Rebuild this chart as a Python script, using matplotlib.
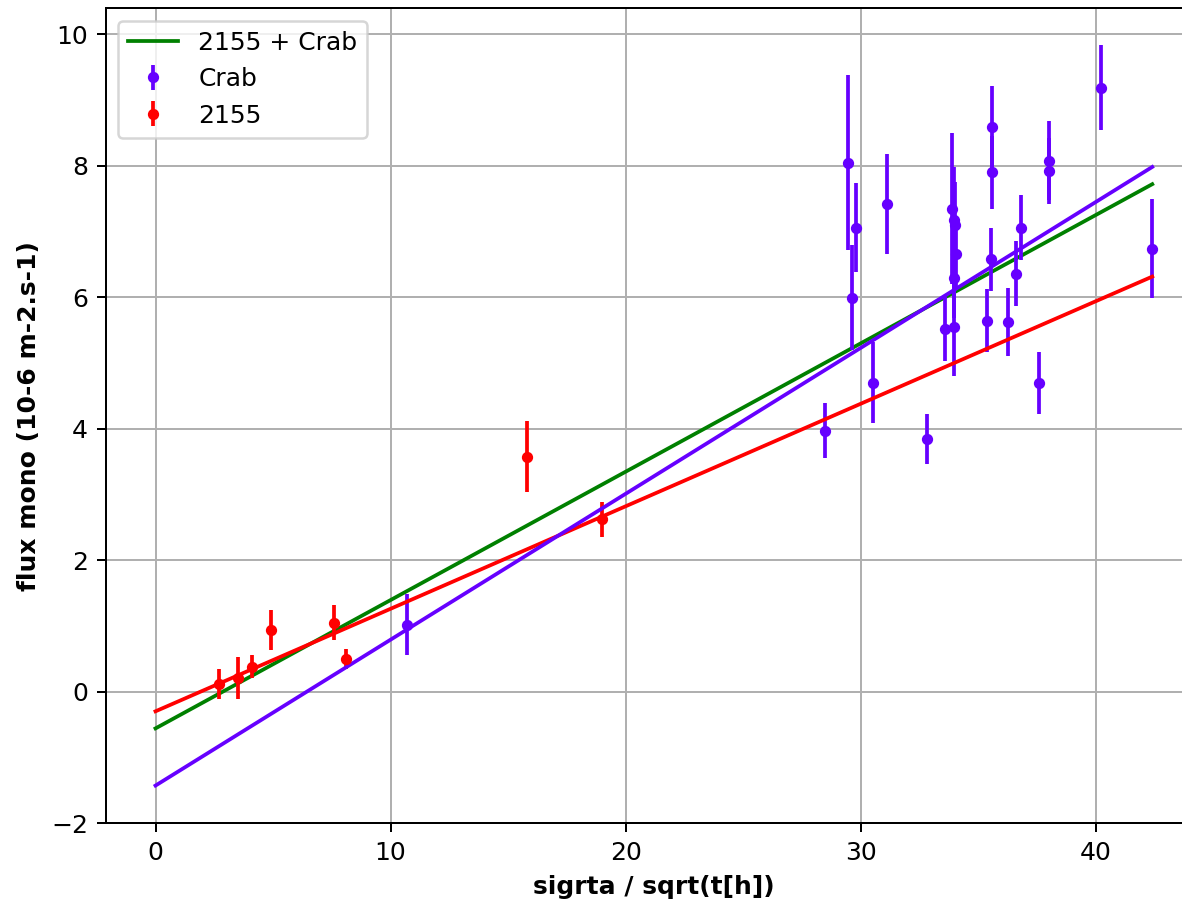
import numpy as np
import matplotlib
matplotlib.use('Agg')
import matplotlib.pyplot as plt

# 2155 points
x_2155 = [2.7, 3.5, 4.1, 4.9, 7.6, 8.1, 15.8, 19.0]
y_2155 = [0.12, 0.20, 0.38, 0.94, 1.05, 0.50, 3.57, 2.62]
e_2155 = [0.23, 0.32, 0.18, 0.30, 0.26, 0.15, 0.54, 0.27]

# Crab points
x_crab = [10.7, 28.5, 29.46, 29.64, 29.79, 30.5, 31.1, 32.8, 33.6,
          33.87, 33.96, 34.0, 34.04, 33.96, 33.96,
          35.39, 35.53, 35.6, 35.6, 36.27, 36.6, 36.8, 37.6, 38.0, 38.0,
          40.2, 42.4]
y_crab = [1.02, 3.97, 8.05, 5.99, 7.06, 4.70, 7.42, 3.85, 5.52,
          7.35, 7.18, 7.10, 6.66, 6.29, 5.55,
          5.64, 6.58, 8.59, 7.90, 5.62, 6.36, 7.06, 4.70, 8.08, 7.92,
          9.19, 6.74]
e_crab = [0.47, 0.42, 1.33, 0.80, 0.68, 0.62, 0.76, 0.38, 0.49,
          1.15, 0.80, 0.65, 0.55, 0.60, 0.75,
          0.48, 0.48, 0.63, 0.55, 0.52, 0.50, 0.49, 0.47, 0.60, 0.50,
          0.65, 0.75]

# linear fits (slope, intercept)
fit_2155 = (0.156, -0.30)
fit_crab = (0.222, -1.43)
fit_all = (0.1953, -0.56)

purple = '#6600ff'
DPI = 180

fig, ax = plt.subplots(figsize=(1182/DPI, 899/DPI), dpi=DPI)
# right spine sits just past the image edge, as in the reference crop
fig.subplots_adjust(left=0.0894, right=1.017, top=0.991, bottom=0.0845)

xx = np.array([0, max(x_crab)])
ax.plot(xx, fit_all[0]*xx + fit_all[1], color='green', label='2155 + Crab')
ax.errorbar(x_crab, y_crab, yerr=e_crab, fmt='o', ms=3.5, color=purple, label='Crab')
ax.errorbar(x_2155, y_2155, yerr=e_2155, fmt='o', ms=3.5, color='red', label='2155')
ax.plot(xx, fit_2155[0]*xx + fit_2155[1], color='red')
ax.plot(xx, fit_crab[0]*xx + fit_crab[1], color=purple)

ax.set_ylim(-2, 10.4)
ax.set_xlabel('sigrta / sqrt(t[h])', fontweight='bold')
ax.set_ylabel('flux mono (10-6 m-2.s-1)', fontweight='bold')
ax.grid(True)
ax.legend(loc='upper left')

fig.savefig('out.png', dpi=DPI)
